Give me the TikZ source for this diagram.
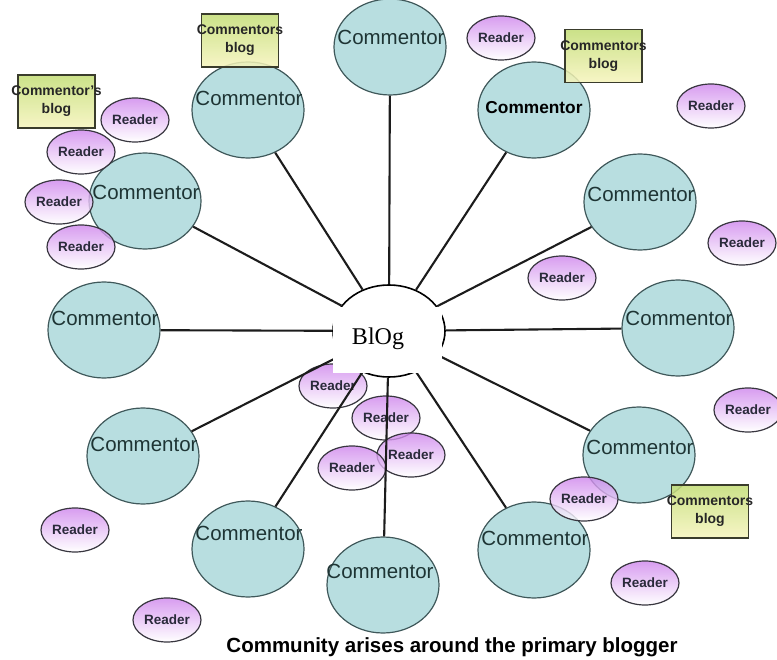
\documentclass[tikz,border=0pt]{standalone}
\usepackage{fontspec}
\setmainfont{Liberation Sans}
\newfontfamily\blogserif{Liberation Serif}
\usetikzlibrary{shapes.geometric}

\definecolor{commfill}{HTML}{B8DEE0}
\definecolor{commline}{HTML}{3F585A}
\definecolor{commtxt}{HTML}{1E3434}
\definecolor{readtop}{HTML}{CE84EC}
\definecolor{readline}{HTML}{38363F}
\definecolor{readtxt}{HTML}{2A2A3A}
\definecolor{boxtop}{HTML}{C2DC74}
\definecolor{boxbot}{HTML}{F6F4BC}
\definecolor{boxline}{HTML}{3A3C2C}
\definecolor{spoke}{HTML}{1C1C1C}

\tikzset{
  commentor/.style={ellipse, draw=commline, line width=1.2pt, fill=commfill,
    minimum width=112pt, minimum height=96pt, inner sep=0pt},
  ctext/.style={text=commtxt, font=\fontsize{20.5}{24}\selectfont, inner sep=0pt, text opacity=1},
  ctextbold/.style={text=black, font=\bfseries\fontsize{17.3}{20}\selectfont, inner sep=0pt, text opacity=1},
  reader/.style={ellipse, draw=readline, line width=1.2pt, top color=readtop,
    bottom color=white, fill opacity=0.8, minimum width=68pt, minimum height=44pt, inner sep=0pt},
  rtext/.style={text=readtxt, font=\bfseries\fontsize{13.5}{16}\selectfont, inner sep=0pt, text opacity=1},
  cblog/.style={rectangle, draw=boxline, line width=1.2pt, top color=boxtop,
    bottom color=boxbot, fill opacity=0.85, minimum width=77pt, minimum height=53pt, inner sep=0pt},
  btext/.style={align=center, text=black!85, font=\bfseries\fontsize{14}{18}\selectfont, inner sep=0pt, text opacity=1},
  spokeline/.style={draw=spoke, line width=2.1pt},
  hub/.style={ellipse, draw=black, line width=1.6pt, fill=white,
    minimum width=112pt, minimum height=92pt, inner sep=0pt},
  hubmask/.style={rectangle, fill=white, minimum width=109pt, minimum height=66pt, inner sep=0pt},
}

\begin{document}
\begin{tikzpicture}[x=1pt,y=-1pt]
\useasboundingbox (0,0) rectangle (777,660);

% commentors around the hub
\node[commentor, label={[ctext, xshift=1pt, yshift=10pt]center:Commentor}] (c1) at (390,47) {};
\node[commentor, label={[ctext, xshift=1pt, yshift=12pt]center:Commentor}] (c2) at (248,110) {};
\node[commentor, label={[ctextbold, xshift=0pt, yshift=2pt]center:Commentor}] (c3) at (534,110) {};
\node[commentor, label={[ctext, xshift=1pt, yshift=9pt]center:Commentor}] (c4) at (145,201) {};
\node[commentor, label={[ctext, xshift=1pt, yshift=8pt]center:Commentor}] (c5) at (640,202) {};
\node[commentor, label={[ctext, xshift=1pt, yshift=12pt]center:Commentor}] (c6) at (104,330) {};
\node[commentor, label={[ctext, xshift=1pt, yshift=10pt]center:Commentor}] (c7) at (678,328) {};
\node[commentor, label={[ctext, xshift=1pt, yshift=12pt]center:Commentor}] (c8) at (143,456) {};
\node[commentor, label={[ctext, xshift=1pt, yshift=8pt]center:Commentor}] (c9) at (639,455) {};
\node[commentor, label={[ctext, xshift=1pt, yshift=16pt]center:Commentor}] (c10) at (248,549) {};
\node[commentor, label={[ctext, xshift=1pt, yshift=12pt]center:Commentor}] (c11) at (534,550) {};
\node[commentor, label={[ctext, xshift=-3pt, yshift=14pt]center:Commentor}] (c12) at (383,585) {};

% readers
\node[reader, label={[rtext]center:Reader}] (r1) at (501,38) {};
\node[reader, label={[rtext]center:Reader}] (r2) at (711,106) {};
\node[reader, label={[rtext]center:Reader}] (r3) at (135,120) {};
\node[reader, label={[rtext]center:Reader}] (r4) at (81,152) {};
\node[reader, label={[rtext]center:Reader}] (r5) at (59,202) {};
\node[reader, label={[rtext]center:Reader}] (r6) at (81,247) {};
\node[reader, label={[rtext]center:Reader}] (r7) at (562,278) {};
\node[reader, label={[rtext]center:Reader}] (r8) at (742,243) {};
\node[reader, label={[rtext]center:Reader}] (r9) at (748,410) {};
\node[reader, label={[rtext]center:Reader}] (r10) at (333,386) {};
\node[reader, label={[rtext]center:Reader}] (r11) at (386,418) {};
\node[reader, label={[rtext]center:Reader}] (r12) at (411,455) {};
\node[reader, label={[rtext]center:Reader}] (r13) at (352,468) {};
\node[reader, label={[rtext]center:Reader}] (r14) at (584,499) {};
\node[reader, label={[rtext]center:Reader}] (r15) at (75,530) {};
\node[reader, label={[rtext]center:Reader}] (r16) at (645,583) {};
\node[reader, label={[rtext]center:Reader}] (r17) at (167,620) {};

% commentors' own blogs
\node[cblog, label={[btext]center:{Commentor's\\blog}}] (b1) at (56.5,101.5) {};
\node[cblog, label={[btext]center:{Commentors\\blog}}] (b2) at (240,40.5) {};
\node[cblog, label={[btext]center:{Commentors\\blog}}] (b3) at (603.5,56) {};
\node[cblog, label={[btext]center:{Commentors\\blog}}] (b4) at (710,511.5) {};

% the primary blog and its spokes
\node[hub] (blog) at (389,331) {};
\foreach \c in {c1,c2,c3,c4,c5,c6,c7,c8,c9,c10,c11,c12}
  \draw[spokeline] (blog) -- (\c);
\node[hubmask] (mask) at (387.5,340) {};
\node[font=\blogserif\fontsize{24}{28}\selectfont, inner sep=0pt] (blogtext) at (378,339) {BlOg};

% caption
\node[font=\bfseries\fontsize{20.5}{24}\selectfont, inner sep=0pt] (caption) at (452,647)
  {Community arises around the primary blogger};
\end{tikzpicture}
\end{document}
